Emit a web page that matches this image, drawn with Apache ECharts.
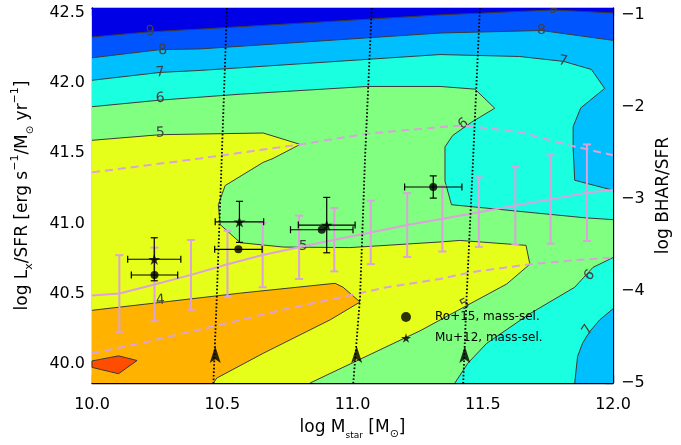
<!DOCTYPE html>
<html>
<head>
<meta charset="utf-8">
<script src="https://cdn.jsdelivr.net/npm/echarts@6/dist/echarts.min.js"></script>
<style>
  html, body { margin: 0; padding: 0; background: #fff; }
  #chart { width: 681px; height: 445px; }
</style>
</head>
<body>
<div id="chart"></div>
<script>
// ---- axis extents ----
const X_MIN = 10.0, X_MAX = 12.0;
const Y_MIN = 39.866, Y_MAX = 42.533;      // log Lx/SFR
const R_MIN = -5.0, R_MAX = -0.93;         // log BHAR/SFR

// ---- tick values ----
const xMajorTicks = [10.0, 10.5, 11.0, 11.5, 12.0];
const leftMajorTicks = [40.0, 40.5, 41.0, 41.5, 42.0, 42.5];
const rightMajorTicks = [-5, -4, -3, -2, -1];

// ---- contour lines (log M*, log Lx/SFR), one per level ----
const contour3 = [[X_MIN, 40.023], [10.102, 40.059], [10.173, 40.026], [10.102, 39.932], [X_MIN, 39.977], [X_MIN, 40.023]];
const contour4 = [[X_MIN, 40.383], [10.262, 40.439], [10.569, 40.505], [10.933, 40.575], [10.964, 40.547],
                  [11.029, 40.442], [10.914, 40.315], [10.657, 40.077], [10.479, 39.901], [10.466, Y_MIN]];
const contour5 = [[X_MIN, 41.592], [10.262, 41.632], [10.657, 41.644], [10.799, 41.563], [10.695, 41.463],
                  [10.657, 41.435], [10.511, 41.270], [10.485, 41.134], [10.492, 40.993], [10.569, 40.864],
                  [10.734, 40.833], [10.990, 40.829], [11.336, 40.869], [11.412, 40.880], [11.666, 40.845],
                  [11.681, 40.711], [11.592, 40.570], [11.259, 40.237], [10.837, Y_MIN]];
const contour6a = [[X_MIN, 41.831], [10.262, 41.878], [10.569, 41.920], [11.056, 41.975], [11.336, 41.975],
                   [11.470, 41.956], [11.546, 41.820], [11.457, 41.721], [11.385, 41.627], [11.355, 41.545],
                   [11.355, 41.301], [11.380, 41.134], [11.898, 41.040], [X_MAX, 41.028]];
const contour6b = [[X_MAX, 40.758], [11.923, 40.688], [11.853, 40.547], [11.681, 40.359], [11.515, 40.148],
                   [11.443, 40.007], [11.393, Y_MIN]];
const contour7a = [[X_MIN, 42.019], [10.262, 42.075], [10.415, 42.089], [11.336, 42.202], [11.642, 42.188],
                   [11.811, 42.153], [11.917, 42.096], [11.968, 41.961], [11.876, 41.822], [11.847, 41.690],
                   [11.847, 41.533], [11.853, 41.308], [X_MAX, 41.237]];
const contour7b = [[X_MAX, 40.394], [11.949, 40.315], [11.910, 40.230], [11.883, 40.148], [11.864, 40.054],
                   [11.853, Y_MIN]];
const contour8 = [[X_MIN, 42.179], [10.262, 42.237], [10.415, 42.242], [11.336, 42.355], [11.725, 42.373], [X_MAX, 42.303]];
const contour9 = [[X_MIN, 42.327], [10.224, 42.364], [10.415, 42.383], [11.336, 42.484], [11.769, 42.519], [X_MAX, 42.498]];

// contour labels: [log M*, log Lx/SFR, level, angle]
const contourLabels = [
  [10.224, 42.366, '9', 4], [10.271, 42.232, '8', 4], [10.262, 42.073, '7', 4],
  [10.262, 41.890, '6', 4], [10.262, 41.644, '5', 2], [10.262, 40.454, '4', 5],
  [10.811, 40.836, '5', 0], [11.425, 41.709, '6', 35], [11.808, 42.155, '7', -10],
  [11.725, 42.373, '8', 0], [11.770, 42.522, '9', 0], [11.432, 40.425, '5', 28],
  [11.910, 40.630, '6', 45], [11.903, 40.242, '7', 55]
];

// ---- binned running median with scatter ----
const binX   = [10.105, 10.24, 10.38, 10.52, 10.655, 10.795, 10.93, 11.07, 11.21, 11.345, 11.485, 11.625, 11.76, 11.90];
const binMid = [40.503, 40.567, 40.635, 40.711, 40.776, 40.831, 40.885, 40.937, 40.989, 41.034, 41.081, 41.128, 41.172, 41.220];
const binLo  = [40.230, 40.306, 40.387, 40.477, 40.547, 40.606, 40.660, 40.711, 40.763, 40.801, 40.834, 40.852, 40.857, 40.876];
const binHi  = [40.775, 40.829, 40.883, 40.949, 41.005, 41.056, 41.111, 41.162, 41.216, 41.268, 41.329, 41.404, 41.486, 41.563];
const medianEnds = [[X_MIN, 40.489], [X_MAX, 41.239]];

const envelopeUpper = [[X_MIN, 41.364], [10.415, 41.463], [10.799, 41.563], [11.054, 41.639], [11.336, 41.686],
                       [11.424, 41.697], [11.642, 41.651], [11.834, 41.556], [X_MAX, 41.486]];
const envelopeLower = [[X_MIN, 40.077], [10.198, 40.153], [10.326, 40.209], [10.569, 40.313], [10.722, 40.383],
                       [11.016, 40.500], [11.131, 40.547], [11.336, 40.606], [11.451, 40.653], [11.681, 40.711],
                       [11.872, 40.742], [X_MAX, 40.758]];

// ---- mass-completeness limits (dotted) and lower-limit arrows ----
const limit1 = [[10.518, Y_MAX], [10.498, 41.463], [10.479, 40.477], [10.466, Y_MIN]];
const limit2 = [[11.074, Y_MAX], [11.048, 41.463], [11.029, 40.477], [11.003, Y_MIN]];
const limit3 = [[11.489, Y_MAX], [11.463, 41.463], [11.438, 40.477], [11.425, Y_MIN]];
const arrowX = [10.473, 11.016, 11.431];
const arrowY = [40.068, 40.068, 40.068];

// ---- literature samples ----
const roX = [10.240, 10.562, 10.882, 11.310];
const roY = [40.634, 40.817, 40.956, 41.260];
const roXErr = [0.089, 0.091, 0.120, 0.110];
const roYErr = [0, 0, 0, 0.079];

const muX = [10.239, 10.566, 10.901];
const muY = [40.746, 41.012, 40.989];
const muXErr = [0.102, 0.093, 0.109];
const muYErr = [0.153, 0.146, 0.197];

// ---- styling ----
const FONT = 'DejaVu Sans';
const LINE_GREY = '#3a3a3a';
const PINK = '#dba2db';
const FILL = {
  l2: '#ff4d00', l3: '#ffb300', l4: '#e6ff1a', l5: '#80ff80',
  l6: '#1affe0', l7: '#00bfff', l8: '#0055ff', l9: '#0000e6'
};
const STAR = 'path://M50,0 L61,35 L98,35 L68,57 L79,91 L50,70 L21,91 L32,57 L2,35 L39,35 Z';
const ARROW = 'path://M6,0 L12,18 L6,14 L0,18 Z';

const TL = [X_MIN, Y_MAX], TR = [X_MAX, Y_MAX], BR = [X_MAX, Y_MIN], BL = [X_MIN, Y_MIN];

function minorTicks(lo, hi, step, majors) {
  const out = [];
  for (let v = lo; v <= hi + 1e-9; v += step) {
    const r = Math.round(v * 10) / 10;
    if (!majors.some(m => Math.abs(m - r) < 1e-6)) out.push(r);
  }
  return out;
}

function polygonSeries(points, color, z) {
  return {
    type: 'custom', coordinateSystem: 'cartesian2d', silent: true, z: z, clip: true,
    data: [[X_MIN, Y_MIN]],
    renderItem: (params, api) => ({
      type: 'polygon',
      shape: { points: points.map(p => api.coord(p)) },
      style: { fill: color, stroke: null }
    })
  };
}

function lineSeries(points, style, z) {
  return {
    type: 'line', data: points, symbol: 'none', showSymbol: false, silent: true, z: z,
    lineStyle: style, animation: false
  };
}

function vErrorSeries(rows, color, width, cap, z) {
  return {
    type: 'custom', coordinateSystem: 'cartesian2d', silent: true, z: z,
    data: rows, encode: { x: 0, y: [1, 2] },
    renderItem: (params, api) => {
      const a = api.coord([api.value(0), api.value(1)]);
      const b = api.coord([api.value(0), api.value(2)]);
      const st = { stroke: color, lineWidth: width };
      return {
        type: 'group', children: [
          { type: 'line', shape: { x1: a[0], y1: a[1], x2: b[0], y2: b[1] }, style: st },
          { type: 'line', shape: { x1: a[0] - cap, y1: a[1], x2: a[0] + cap, y2: a[1] }, style: st },
          { type: 'line', shape: { x1: b[0] - cap, y1: b[1], x2: b[0] + cap, y2: b[1] }, style: st }
        ]
      };
    }
  };
}

function hErrorSeries(rows, color, width, cap, z) {
  return {
    type: 'custom', coordinateSystem: 'cartesian2d', silent: true, z: z,
    data: rows, encode: { x: [0, 2], y: 1 },
    renderItem: (params, api) => {
      const a = api.coord([api.value(0), api.value(1)]);
      const b = api.coord([api.value(2), api.value(1)]);
      const st = { stroke: color, lineWidth: width };
      return {
        type: 'group', children: [
          { type: 'line', shape: { x1: a[0], y1: a[1], x2: b[0], y2: b[1] }, style: st },
          { type: 'line', shape: { x1: a[0], y1: a[1] - cap, x2: a[0], y2: a[1] + cap }, style: st },
          { type: 'line', shape: { x1: b[0], y1: b[1] - cap, x2: b[0], y2: b[1] + cap }, style: st }
        ]
      };
    }
  };
}

// filled contour bands, drawn as nested super-level regions
const fills = [
  polygonSeries([BL, BR, TR, TL], FILL.l3, 1),
  polygonSeries(contour3, FILL.l2, 1),
  polygonSeries(contour4.concat([BR, TR, TL]), FILL.l4, 1),
  polygonSeries(contour5.concat([BR, TR, TL]), FILL.l5, 1),
  polygonSeries(contour6a.concat([TR, TL]), FILL.l6, 1),
  polygonSeries(contour6b.concat([BR]), FILL.l6, 1),
  polygonSeries(contour7a.concat([TR, TL]), FILL.l7, 1),
  polygonSeries(contour7b.concat([BR]), FILL.l7, 1),
  polygonSeries(contour8.concat([TR, TL]), FILL.l8, 1),
  polygonSeries(contour9.concat([TR, TL]), FILL.l9, 1)
];

const contourStyle = { color: LINE_GREY, width: 1 };
const contourLines = [contour3, contour4, contour5, contour6a, contour6b, contour7a, contour7b, contour8, contour9]
  .map(c => lineSeries(c, contourStyle, 2));

const labelSeries = {
  type: 'custom', coordinateSystem: 'cartesian2d', silent: true, z: 3, clip: true,
  data: contourLabels.map(l => [l[0], l[1], l[3]]),
  renderItem: (params, api) => {
    const p = api.coord([api.value(0), api.value(1)]);
    return {
      type: 'text', x: p[0], y: p[1], rotation: api.value(2) * Math.PI / 180,
      style: {
        text: contourLabels[params.dataIndex][2], fill: '#404040',
        fontSize: 14, fontFamily: FONT, align: 'center', verticalAlign: 'middle'
      }
    };
  }
};

const medianLine = [medianEnds[0]].concat(binX.map((x, i) => [x, binMid[i]]), [medianEnds[1]]);

const option = {
  animation: false,
  backgroundColor: '#ffffff',
  grid: { left: 92, top: 8, width: 521, height: 379, containLabel: false },
  legend: {
    orient: 'vertical', left: 396, top: 306, itemWidth: 10, itemHeight: 10, itemGap: 9,
    selectedMode: false,
    textStyle: { fontFamily: FONT, fontSize: 12, color: '#000', padding: [0, 0, 0, 19] },
    data: [
      { name: 'Ro+15, mass-sel.', icon: 'circle' },
      { name: 'Mu+12, mass-sel.', icon: STAR }
    ]
  },
  xAxis: [
    {
      type: 'value', position: 'bottom', min: X_MIN, max: X_MAX, interval: 0.5,
      name: '{n|log M}{sub|star}{n| [M}{sub2|⊙}{n|]}', nameLocation: 'middle', nameGap: 33,
      nameTextStyle: {
        rich: {
          n: { fontFamily: FONT, fontSize: 17, color: '#000', lineHeight: 24 },
          sub: { fontFamily: FONT, fontSize: 9, color: '#000', lineHeight: 12, verticalAlign: 'bottom' },
          sub2: { fontFamily: FONT, fontSize: 11, color: '#000', lineHeight: 14, verticalAlign: 'bottom' }
        }
      },
      axisLine: { show: true, onZero: false, lineStyle: { color: '#000', width: 1.3 } },
      axisTick: { show: true, inside: true, length: 8, lineStyle: { color: '#000', width: 1.2 } },
      minorTick: { show: true, splitNumber: 5, length: 4, lineStyle: { color: '#000', width: 1 } },
      axisLabel: { margin: 14, fontFamily: FONT, fontSize: 16, color: '#000', formatter: v => v.toFixed(1) },
      splitLine: { show: false }, minorSplitLine: { show: false }
    },
    {
      type: 'value', position: 'top', min: X_MIN, max: X_MAX, interval: 0.5,
      axisLine: { show: true, onZero: false, lineStyle: { color: '#000', width: 1.3 } },
      axisTick: { show: true, inside: true, length: 8, lineStyle: { color: '#000', width: 1.2 } },
      minorTick: { show: true, splitNumber: 5, length: 4, lineStyle: { color: '#000', width: 1 } },
      axisLabel: { show: false }, splitLine: { show: false }
    }
  ],
  yAxis: [
    {
      type: 'value', position: 'left', min: Y_MIN, max: Y_MAX,
      name: '{n|log L}{sub|x}{n|/SFR [erg s}{sup|−1}{n|/M}{sub2|⊙}{n| yr}{sup|−1}{n|]}',
      nameLocation: 'middle', nameGap: 57,
      nameTextStyle: {
        rich: {
          n: { fontFamily: FONT, fontSize: 17, color: '#000', lineHeight: 25 },
          sub: { fontFamily: FONT, fontSize: 11, color: '#000', lineHeight: 13, verticalAlign: 'bottom' },
          sub2: { fontFamily: FONT, fontSize: 10, color: '#000', lineHeight: 12, verticalAlign: 'bottom' },
          sup: { fontFamily: FONT, fontSize: 11, color: '#000', lineHeight: 13, verticalAlign: 'top' }
        }
      },
      axisLine: { show: true, onZero: false, lineStyle: { color: '#000', width: 1.3 } },
      axisTick: { show: true, inside: true, length: 10, customValues: leftMajorTicks, lineStyle: { color: '#000', width: 1.2 } },
      axisLabel: { customValues: leftMajorTicks, margin: 7, fontFamily: FONT, fontSize: 16, color: '#000', formatter: v => v.toFixed(1) },
      splitLine: { show: false }
    },
    {
      type: 'value', position: 'left', min: Y_MIN, max: Y_MAX,
      axisLine: { show: false },
      axisTick: { show: true, inside: true, length: 5, customValues: minorTicks(39.9, 42.5, 0.1, leftMajorTicks), lineStyle: { color: '#000', width: 1 } },
      axisLabel: { show: false }, splitLine: { show: false }
    },
    {
      type: 'value', position: 'right', min: R_MIN, max: R_MAX,
      name: 'log BHAR/SFR', nameLocation: 'middle', nameGap: 36,
      nameTextStyle: { fontFamily: FONT, fontSize: 17, color: '#000' },
      axisLine: { show: true, onZero: false, lineStyle: { color: '#000', width: 1.3 } },
      axisTick: { show: true, inside: true, length: 8, customValues: rightMajorTicks, lineStyle: { color: '#000', width: 1.2 } },
      axisLabel: { customValues: rightMajorTicks, margin: 8, fontFamily: FONT, fontSize: 16, color: '#000', formatter: v => '\u2212' + Math.abs(v) },
      splitLine: { show: false }
    },
    {
      type: 'value', position: 'right', min: R_MIN, max: R_MAX,
      axisLine: { show: false },
      axisTick: { show: true, inside: true, length: 5, customValues: minorTicks(-4.9, -1.0, 0.1, rightMajorTicks), lineStyle: { color: '#000', width: 1 } },
      axisLabel: { show: false }, splitLine: { show: false }
    }
  ],
  series: [].concat(
    fills,
    contourLines,
    [labelSeries],
    [
      lineSeries(envelopeUpper, { color: PINK, width: 2, type: [8, 5] }, 4),
      lineSeries(envelopeLower, { color: PINK, width: 2, type: [8, 5] }, 4),
      lineSeries(medianLine, { color: PINK, width: 2 }, 4),
      vErrorSeries(binX.map((x, i) => [x, binLo[i], binHi[i]]), PINK, 2, 4, 4),
      lineSeries(limit1, { color: '#000', width: 1.8, type: [1.6, 2] }, 5),
      lineSeries(limit2, { color: '#000', width: 1.8, type: [1.6, 2] }, 5),
      lineSeries(limit3, { color: '#000', width: 1.8, type: [1.6, 2] }, 5),
      {
        type: 'scatter', silent: true, z: 6, symbol: ARROW, symbolSize: [11, 17],
        itemStyle: { color: '#000' }, data: arrowX.map((x, i) => [x, arrowY[i]])
      },
      hErrorSeries(roX.map((x, i) => [x - roXErr[i], roY[i], x + roXErr[i]]), '#000', 1.2, 3.5, 6),
      vErrorSeries(roX.map((x, i) => [x, roY[i] - roYErr[i], roY[i] + roYErr[i]]).filter((r, i) => roYErr[i] > 0), '#000', 1.2, 3.5, 6),
      hErrorSeries(muX.map((x, i) => [x - muXErr[i], muY[i], x + muXErr[i]]), '#000', 1.2, 3.5, 6),
      vErrorSeries(muX.map((x, i) => [x, muY[i] - muYErr[i], muY[i] + muYErr[i]]), '#000', 1.2, 3.5, 6),
      {
        name: 'Ro+15, mass-sel.', type: 'scatter', silent: true, z: 7, symbol: 'circle', symbolSize: 8,
        itemStyle: { color: '#000' }, data: roX.map((x, i) => [x, roY[i]])
      },
      {
        name: 'Mu+12, mass-sel.', type: 'scatter', silent: true, z: 7, symbol: STAR, symbolSize: 12,
        symbolKeepAspect: true, itemStyle: { color: '#000' }, data: muX.map((x, i) => [x, muY[i]])
      }
    ]
  )
};

const chart = echarts.init(document.getElementById('chart'), null, { renderer: 'canvas' });
chart.setOption(option);
</script>
</body>
</html>
